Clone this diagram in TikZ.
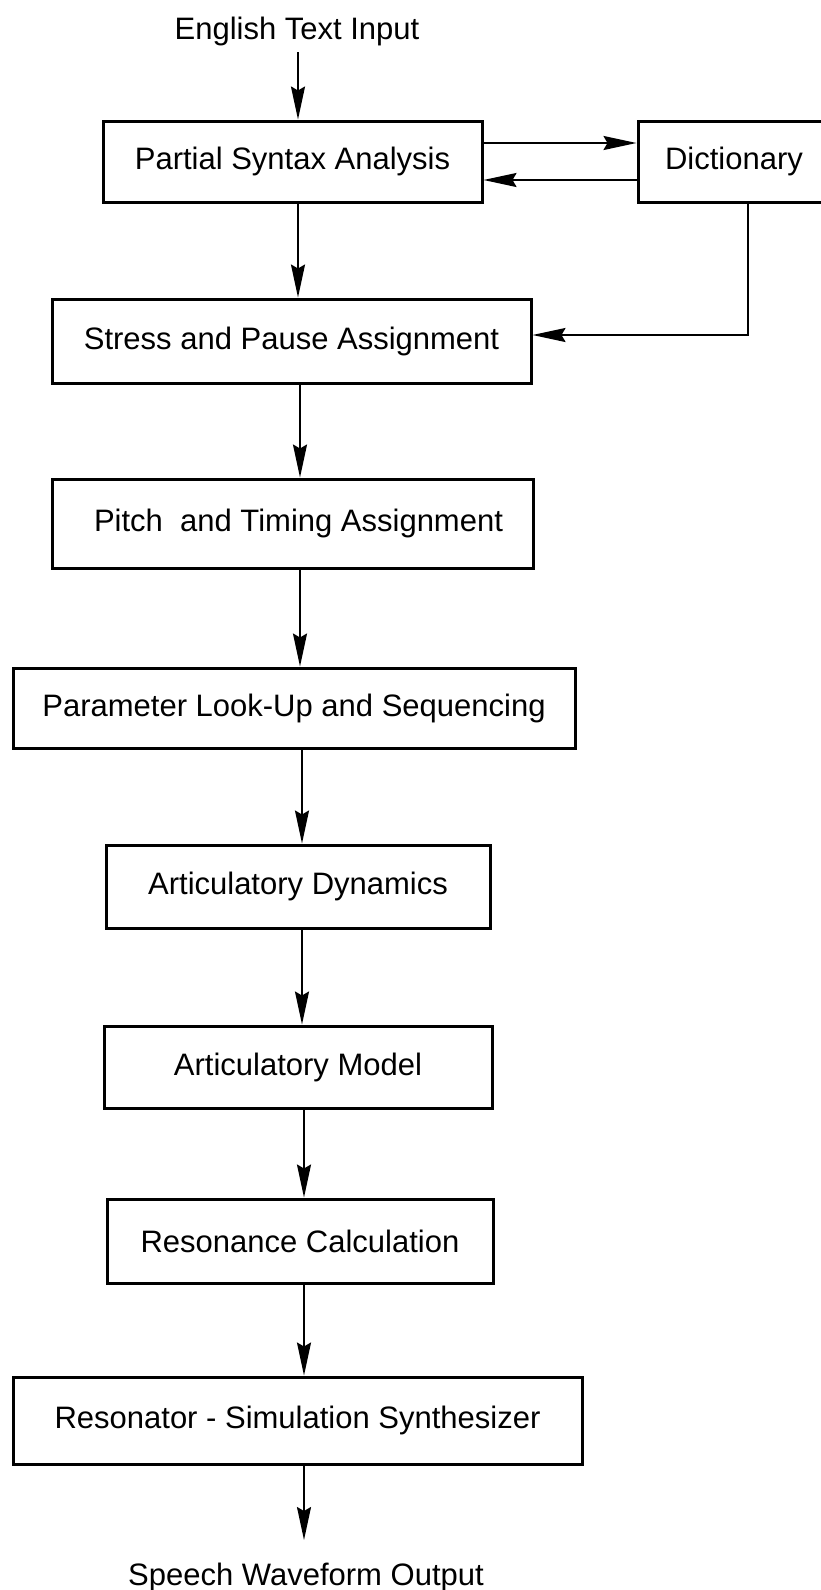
\documentclass[tikz,border=0pt]{standalone}
\usepackage{fontspec}
\setmainfont{Liberation Sans}
\usetikzlibrary{arrows.meta}
\begin{document}
\begin{tikzpicture}[x=1pt,y=-1pt,
  box/.style={draw, line width=3pt, inner sep=0pt, anchor=center,
    font=\fontsize{31}{36}\selectfont},
  label/.style={inner sep=0pt, anchor=center, font=\fontsize{31}{36}\selectfont},
  tip/.style={-{Stealth[length=33pt,width=14pt,inset=4pt]}},
  flow/.style={line width=2pt, tip}]
\useasboundingbox (0,0) rectangle (820,1590);

% processing stages
\node[label] (input) at (297,31) {English Text Input};
\node[box, minimum width=379pt, minimum height=81pt] (psa) at (292.5,161.5) {Partial Syntax Analysis};
\node[box, minimum width=192pt, minimum height=81pt] (dict) at (734,161.5) {Dictionary};
\node[box, minimum width=479pt, minimum height=84pt] (stress) at (291.5,341) {Stress and Pause Assignment};
\node[box, minimum width=481pt, minimum height=89pt] (pitch) at (292.5,523.5) {\hspace*{12pt}Pitch\ \ and Timing Assignment};
\node[box, minimum width=562pt, minimum height=80pt] (param) at (294,708) {Parameter Look-Up and Sequencing};
\node[box, minimum width=384pt, minimum height=83pt] (artdyn) at (298,886.5) {Articulatory Dynamics};
\node[box, minimum width=388pt, minimum height=82pt] (artmod) at (298,1067) {Articulatory Model};
\node[box, minimum width=386pt, minimum height=84pt] (reson) at (300,1241) {Resonance Calculation};
\node[box, minimum width=569pt, minimum height=87pt] (synth) at (297.5,1420.5) {Resonator - Simulation Synthesizer};
\node[label] (output) at (306,1577) {Speech Waveform Output};

% vertical guides for the main chain
\coordinate (s1) at (298,0);
\coordinate (s2) at (300,0);
\coordinate (s3) at (302,0);
\coordinate (s4) at (304,0);
\coordinate (inEnd) at (298,52);
\coordinate (outEnd) at (304,1540);

% main chain
\draw[flow] (inEnd) -- (psa.north -| s1);
\draw[flow] (psa.south -| s1) -- (stress.north -| s1);
\draw[flow] (stress.south -| s2) -- (pitch.north -| s2);
\draw[flow] (pitch.south -| s2) -- (param.north -| s2);
\draw[flow] (param.south -| s3) -- (artdyn.north -| s3);
\draw[flow] (artdyn.south -| s3) -- (artmod.north -| s3);
\draw[flow] (artmod.south -| s4) -- (reson.north -| s4);
\draw[flow] (reson.south -| s4) -- (synth.north -| s4);
\draw[flow] (synth.south -| outEnd) -- (outEnd);

% dictionary exchange
\coordinate (toDict) at (0,143);
\coordinate (fromDict) at (0,180);
\draw[flow] (psa.east |- toDict) -- (dict.west |- toDict);
\draw[flow] (dict.west |- fromDict) -- (psa.east |- fromDict);
\coordinate (dictDrop) at (748,335);
\draw[flow] (dict.south -| dictDrop) -- (dictDrop) -- (stress.east |- dictDrop);
\end{tikzpicture}
\end{document}
